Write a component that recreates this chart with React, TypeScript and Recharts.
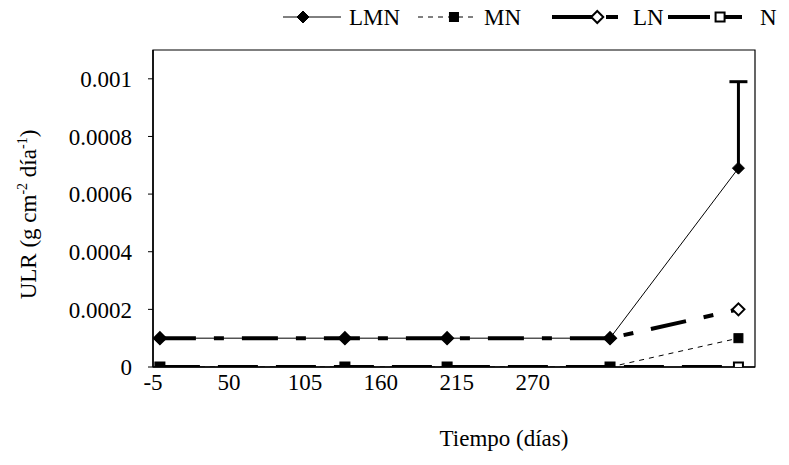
import React from "react";
import { LineChart, Line, XAxis, YAxis, Legend, ReferenceArea, Label } from "recharts";

const days = [0, 134, 208, 326, 419];
const lmnValues = [0.0001, 0.0001, 0.0001, 0.0001, 0.00069];
const mnValues = [0, 0, 0, 0, 0.0001];
const lnValues = [0.0001, 0.0001, 0.0001, 0.0001, 0.0002];
const nValues = [0, 0, 0, 0, 0];
const lmnErrUpper = [0, 0, 0, 0, 0.0003];
const xTicks = [-5, 50, 105, 160, 215, 270];
const yTicks = [0, 0.0002, 0.0004, 0.0006, 0.0008, 0.001];
const xDomain = [-5, 431];
const yDomain = [0, 0.0011];

const data = days.map((d, i) => ({
  day: d,
  LMN: lmnValues[i],
  MN: mnValues[i],
  LN: lnValues[i],
  N: nValues[i],
}));

const lastIdx = days.length - 1;
const errData = [
  { day: days[lastIdx], err: lmnValues[lastIdx] },
  { day: days[lastIdx], err: lmnValues[lastIdx] + lmnErrUpper[lastIdx] },
];

const FONT = "Times New Roman, Times, Tinos, Liberation Serif, Noto Serif, FreeSerif, DejaVu Serif, serif";

const Diamond = ({ cx, cy, filled, size = 6 }: any) => (
  <path
    d={`M${cx},${cy - size} L${cx + size},${cy} L${cx},${cy + size} L${cx - size},${cy} Z`}
    fill={filled ? "#000" : "#fff"}
    stroke="#000"
    strokeWidth={filled ? 1 : 2}
  />
);
const Square = ({ cx, cy, filled, size = 4.5 }: any) => (
  <rect
    x={cx - size}
    y={cy - size}
    width={size * 2}
    height={size * 2}
    fill={filled ? "#000" : "#fff"}
    stroke="#000"
    strokeWidth={filled ? 1 : 2}
  />
);

const dotFn = (kind: string, filled: boolean) => (props: any) => {
  const { cx, cy, index } = props;
  if (cx == null || cy == null) return <g key={index} />;
  return (
    <g key={index}>
      {kind === "diamond" ? <Diamond cx={cx} cy={cy} filled={filled} /> : <Square cx={cx} cy={cy} filled={filled} />}
    </g>
  );
};

const capDot = (props: any) => {
  const { cx, cy, index } = props;
  if (index !== 1) return <g key={index} />;
  return <line key={index} x1={cx - 9} x2={cx + 9} y1={cy} y2={cy} stroke="#000" strokeWidth={3} />;
};

const legendItems = [
  { name: "LMN", kind: "diamond", filled: true, width: 1, dash: undefined, lx: 283, tx: 349 },
  { name: "MN", kind: "square", filled: true, width: 1, dash: "5 5", lx: 418, tx: 484 },
  { name: "LN", kind: "diamond", filled: false, width: 4, dash: "40 14 12 14", lx: 552, tx: 633 },
  { name: "N", kind: "square", filled: false, width: 4, dash: "42 14 18 14", lx: 668, tx: 760 },
];

const LegendContent = () => (
  <svg width={789} height={36} style={{ display: "block" }}>
    {legendItems.map((it) => {
      const len = it.tx - it.lx - 8;
      const mx = it.lx + (it.kind === "diamond" && it.filled ? 20 : len * 0.62);
      return (
        <g key={it.name}>
          <line x1={it.lx} x2={it.lx + len} y1={17} y2={17} stroke="#000" strokeWidth={it.width} strokeDasharray={it.dash} />
          {it.kind === "diamond" ? (
            <Diamond cx={mx} cy={17} filled={it.filled} />
          ) : (
            <Square cx={mx} cy={17} filled={it.filled} />
          )}
          <text x={it.tx} y={25} fontFamily={FONT} fontSize={23} fill="#000">
            {it.name}
          </text>
        </g>
      );
    })}
  </svg>
);

const YTitle = (props: any) => {
  const vb = props.viewBox || {};
  const cy = vb.y + vb.height / 2 + 6;
  const x = 36;
  return (
    <text
      x={x}
      y={cy}
      transform={`rotate(-90 ${x} ${cy})`}
      textAnchor="middle"
      fontFamily={FONT}
      fontSize={23}
      fill="#000"
    >
      ULR (g cm
      <tspan fontSize={14} dy={-9}>-2</tspan>
      <tspan dy={9}> día</tspan>
      <tspan fontSize={14} dy={-9}>-1</tspan>
      <tspan dy={9}>)</tspan>
    </text>
  );
};

const XTitle = (props: any) => {
  const vb = props.viewBox || {};
  return (
    <text x={vb.x + vb.width / 2 + 50} y={446} textAnchor="middle" fontFamily={FONT} fontSize={23} fill="#000">
      Tiempo (días)
    </text>
  );
};

const fmt = (v: number) => (v === 0 ? "0" : String(v));

export default function App() {
  return (
    <div style={{ position: "absolute", left: 0, top: 0, width: 789, height: 465, background: "#fff" }}>
      <LineChart width={789} height={465} data={data} margin={{ top: 50, right: 34, left: 0, bottom: 0 }}>
        <XAxis
          dataKey="day"
          type="number"
          domain={xDomain}
          ticks={xTicks}
          allowDataOverflow
          height={98}
          tickLine={false}
          tickMargin={1}
          axisLine={{ stroke: "#000", strokeWidth: 1.5 }}
          tick={{ fill: "#000", fontFamily: FONT, fontSize: 23 }}
        >
          <Label content={<XTitle />} />
        </XAxis>
        <YAxis
          type="number"
          domain={yDomain}
          ticks={yTicks}
          allowDataOverflow
          width={153}
          tickSize={5}
          tickMargin={16}
          tickFormatter={fmt}
          axisLine={{ stroke: "#000", strokeWidth: 1.5 }}
          tickLine={{ stroke: "#000" }}
          tick={{ fill: "#000", fontFamily: FONT, fontSize: 23 }}
        >
          <Label content={<YTitle />} />
        </YAxis>
        <ReferenceArea x1={xDomain[0]} x2={xDomain[1]} y1={yDomain[0]} y2={yDomain[1]} fill="none" fillOpacity={0} stroke="#000" strokeWidth={1.2} />
        <Legend
          layout="horizontal"
          verticalAlign="middle"
          align="center"
          content={<LegendContent />}
          wrapperStyle={{ top: 0, left: 0, width: 789, height: 36 }}
        />
        <Line
          dataKey="N"
          stroke="#000"
          strokeWidth={4}
          strokeDasharray="40 18"
          dot={dotFn("square", false)}
          isAnimationActive={false}
          legendType="none"
        />
        <Line
          dataKey="LN"
          stroke="#000"
          strokeWidth={4}
          strokeDasharray="36 18 10 18"
          dot={dotFn("diamond", false)}
          isAnimationActive={false}
          legendType="none"
        />
        <Line
          dataKey="MN"
          stroke="#000"
          strokeWidth={1}
          strokeDasharray="5 5"
          dot={dotFn("square", true)}
          isAnimationActive={false}
          legendType="none"
        />
        <Line
          dataKey="LMN"
          stroke="#000"
          strokeWidth={1}
          dot={dotFn("diamond", true)}
          isAnimationActive={false}
          legendType="none"
        />
        <Line
          data={errData}
          dataKey="err"
          stroke="#000"
          strokeWidth={3}
          dot={capDot}
          isAnimationActive={false}
          legendType="none"
        />
      </LineChart>
    </div>
  );
}
